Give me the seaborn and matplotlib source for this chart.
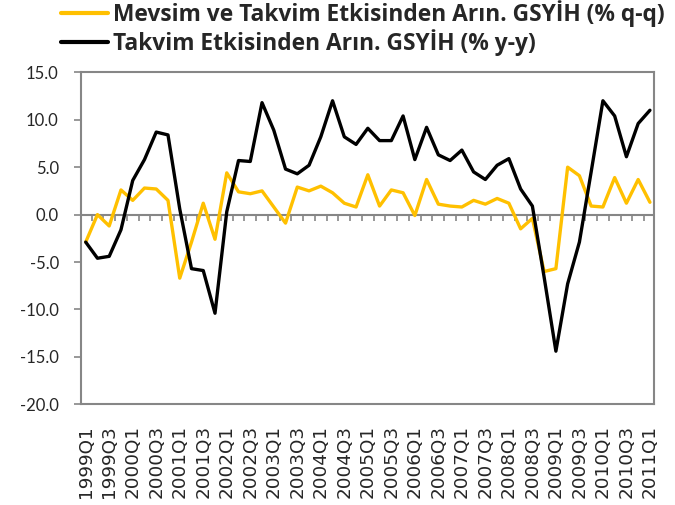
import numpy as np
import pandas as pd
import matplotlib
matplotlib.use('Agg')
import matplotlib.pyplot as plt
import seaborn as sns

# Çeyrekler: 1999Q1 - 2011Q1
quarters = [f"{y}Q{q}" for y in range(1999, 2012) for q in range(1, 5)][:49]

# Mevsim ve Takvim Etkisinden Arın. GSYİH (% q-q)
qq = [-2.9, 0.0, -1.2, 2.6, 1.5, 2.8, 2.7, 1.5, -6.7, -2.9,
      1.2, -2.6, 4.4, 2.4, 2.2, 2.5, 0.8, -0.9, 2.9, 2.5,
      3.0, 2.3, 1.2, 0.8, 4.2, 0.9, 2.6, 2.3, -0.1, 3.7,
      1.1, 0.9, 0.8, 1.5, 1.1, 1.7, 1.2, -1.5, -0.4, -6.0,
      -5.7, 5.0, 4.1, 0.9, 0.8, 3.9, 1.2, 3.7, 1.3]

# Takvim Etkisinden Arın. GSYİH (% y-y)
yy = [-2.9, -4.6, -4.4, -1.6, 3.6, 5.8, 8.7, 8.4, 0.6, -5.7,
      -5.9, -10.4, 0.3, 5.7, 5.6, 11.8, 8.9, 4.8, 4.3, 5.2,
      8.2, 12.0, 8.2, 7.4, 9.1, 7.8, 7.8, 10.4, 5.8, 9.2,
      6.3, 5.7, 6.8, 4.5, 3.7, 5.2, 5.9, 2.7, 0.9, -6.6,
      -14.4, -7.3, -2.9, 4.5, 12.0, 10.4, 6.1, 9.6, 11.0]

label_qq = "Mevsim ve Takvim Etkisinden Arın. GSYİH (% q-q)"
label_yy = "Takvim Etkisinden Arın. GSYİH (% y-y)"

df = pd.DataFrame({
    "idx": list(range(len(quarters))) * 2,
    "deger": qq + yy,
    "seri": [label_qq] * len(qq) + [label_yy] * len(yy),
})

sns.set_style("white")
plt.rcParams['font.family'] = ['DejaVu Sans']

gray = '#868686'
fig = plt.figure(figsize=(6.75, 5.05), dpi=100)
ax = fig.add_axes([0.12, 0.1994, 0.8493, 0.6574])

# sıfır çizgisi
ax.axhline(0, color=gray, linewidth=1.5, zorder=1)

sns.lineplot(data=df, x="idx", y="deger", hue="seri", sort=False,
             palette=['#FFC000', '#000000'], linewidth=2.4, ax=ax, legend=False,
             zorder=3)

ax.set_xlim(-0.4, len(quarters) - 1 + 0.37)
ax.set_ylim(-20, 15)
ax.set_yticks(np.arange(-20, 15.1, 5))
ax.set_yticklabels([f"{v:.1f}" for v in np.arange(-20, 15.1, 5)],
                   fontfamily='Lato', fontsize=12)
ax.tick_params(axis='y', direction='out', length=5, width=1.2, color=gray,
               pad=11, left=True)

ax.set_xticks(range(0, len(quarters), 2))
ax.set_xticklabels(quarters[::2], rotation=90, fontsize=13.2)
ax.tick_params(axis='x', length=0, pad=15)
ax.set_xlabel("")
ax.set_ylabel("")

for s in ax.spines.values():
    s.set_color(gray)
    s.set_linewidth(1.5)

# çeyrek ara işaretleri (sıfır çizgisi üzerinde)
zero_pos = (0 - (-20)) / 35
sec = ax.secondary_xaxis(zero_pos)
sec.set_xticks(np.arange(0.5, len(quarters) - 1, 1))
sec.set_xticklabels([])
sec.tick_params(direction='out', length=4.5, width=1.2, color=gray)
for s in sec.spines.values():
    s.set_visible(False)
sec.xaxis.set_ticks_position('bottom')

h1, = ax.plot([], [], color='#FFC000', linewidth=3)
h2, = ax.plot([], [], color='#000000', linewidth=3)
fig.legend([h1, h2], [label_qq, label_yy], loc='upper left',
           bbox_to_anchor=(0.077, 1.018), frameon=False,
           prop={'family': 'Open Sans', 'weight': 'bold', 'size': 16.4},
           handlelength=2.05, handletextpad=0.25, labelspacing=0.12,
           borderaxespad=0)

fig.savefig("out.png", dpi=100)
